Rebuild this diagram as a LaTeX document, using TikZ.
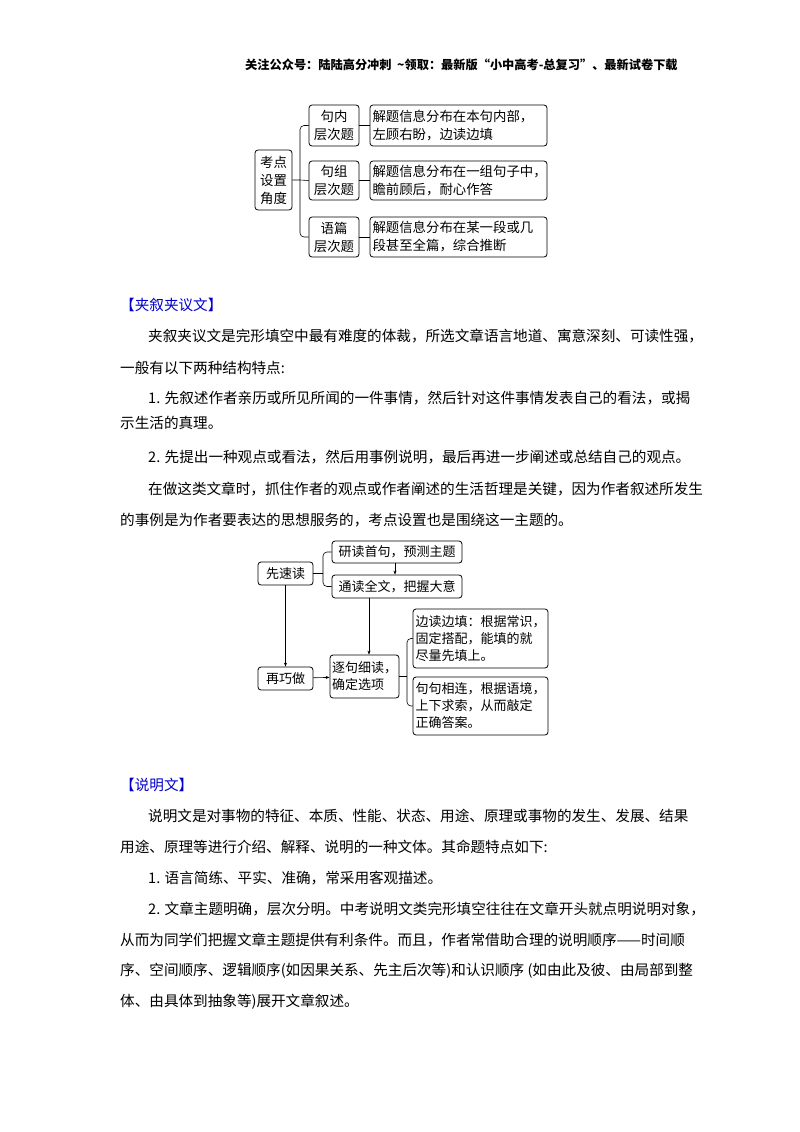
\documentclass[tikz,border=0pt]{standalone}
\usepackage{fontspec}
\setmainfont{Noto Sans CJK SC}
\usetikzlibrary{arrows.meta}
\begin{document}
\begin{tikzpicture}[x=1pt,y=-1pt,
 bx/.style={draw,rounded corners=3pt,line width=0.8pt,inner sep=2pt,font=\fontsize{13}{17}\selectfont,align=left},
 bt/.style={bx,font=\fontsize{13.4}{18}\selectfont},
 ln/.style={line width=0.6pt},
 ar/.style={line width=0.6pt,-{Stealth[length=4pt,width=3pt]}},
 tx/.style={anchor=west,inner sep=0pt,font=\fontsize{14.6}{16}\selectfont},
 hd/.style={anchor=west,inner sep=0pt,font=\fontsize{14.6}{16}\selectfont,text=blue!80!black}]
\useasboundingbox (0,0) rectangle (800,1132);
\node[anchor=west,inner sep=0pt,font=\fontsize{12.2}{14}\selectfont\bfseries] (h) at (245,65) {关注公众号：陆陆高分冲刺\ \ \~{}领取：最新版“小中高考-总复习”、最新试卷下载};
% top diagram
\node[bt,minimum width=37pt,minimum height=60pt] (r) at (273.5,180) {考点\\设置\\角度};
\node[bt,minimum width=50pt,minimum height=41pt,align=center] (a1) at (334,125.5) {句内\\层次题};
\node[bt,minimum width=50pt,minimum height=39pt,align=center] (a2) at (334,180.5) {句组\\层次题};
\node[bt,minimum width=50pt,minimum height=40pt,align=center] (a3) at (334,237) {语篇\\层次题};
\node[bt,minimum width=177pt,minimum height=41pt,text width=172pt] (b1) at (458.5,125.5) {解题信息分布在本句内部，\\左顾右盼，边读边填};
\node[bt,minimum width=177pt,minimum height=39pt,text width=172pt] (b2) at (458.5,180.5) {解题信息分布在一组句子中，\\瞻前顾后，耐心作答};
\node[bt,minimum width=177pt,minimum height=40pt,text width=172pt] (b3) at (458.5,237) {解题信息分布在某一段或几\\段甚至全篇，综合推断};
\coordinate (j) at (300,180);
\draw[ln] (r.east) -- (j) -- (a2.west);
\draw[ln,rounded corners=4pt] (a1.west) -| (j) |- (a3.west);
\draw[ln] (a1) -- (b1); \draw[ln] (a2) -- (b2); \draw[ln] (a3) -- (b3);
% text 1
\node[hd] (t0) at (120,305) {【夹叙夹议文】};
\node[tx] (t1) at (148,336) {夹叙夹议文是完形填空中最有难度的体裁，所选文章语言地道、寓意深刻、可读性强，};
\node[tx] (t2) at (120,368) {一般有以下两种结构特点:};
\node[tx] (t3) at (148,398) {1. 先叙述作者亲历或所见所闻的一件事情，然后针对这件事情发表自己的看法，或揭};
\node[tx] (t4) at (120,423) {示生活的真理。};
\node[tx] (t5) at (148,457) {2. 先提出一种观点或看法，然后用事例说明，最后再进一步阐述或总结自己的观点。};
\node[tx] (t6) at (148,489) {在做这类文章时，抓住作者的观点或作者阐述的生活哲理是关键，因为作者叙述所发生};
\node[tx] (t7) at (120,520) {的事例是为作者要表达的思想服务的，考点设置也是围绕这一主题的。};
% middle diagram
\node[bx,minimum width=55pt,minimum height=23pt] (c1) at (285.5,573.5) {先速读};
\node[bx,minimum width=130pt,minimum height=22pt] (d1) at (397,552) {研读首句，预测主题};
\node[bx,minimum width=130pt,minimum height=23pt] (d2) at (397,586.5) {通读全文，把握大意};
\node[bx,minimum width=55pt,minimum height=23pt] (c2) at (285.5,678.5) {再巧做};
\node[bx,minimum width=65pt,minimum height=43pt] (e) at (364.5,676.5) {逐句细读，\\确定选项};
\node[bx,minimum width=135pt,minimum height=59pt,text width=130pt] (f1) at (480.5,638.5) {边读边填：根据常识，\\固定搭配，能填的就\\尽量先填上。};
\node[bx,minimum width=135pt,minimum height=58pt,text width=130pt] (f2) at (480.5,706) {句句相连，根据语境，\\上下求索，从而敲定\\正确答案。};
\coordinate (k) at (323,573.5);
\draw[ln] (c1.east) -- (k);
\draw[ln,rounded corners=4pt] (d1.west) -| (k) |- (d2.west);
\draw[ar] ([xshift=-2pt]d1.south) -- ([xshift=-2pt]d2.north);
\draw[ar] (c1) -- (c2);
\draw[ar] (c2) -- (e);
\draw[ar] (d2.south -| 369,0) -- (e.north -| 369,0);
\coordinate (m) at (407,676.5);
\draw[ln] (e.east) -- (m);
\draw[ln,rounded corners=4pt] (f1.west) -| (m) |- (f2.west);
% text 2
\node[hd] (u0) at (120,785) {【说明文】};
\node[tx] (u1) at (148,816) {说明文是对事物的特征、本质、性能、状态、用途、原理或事物的发生、发展、结果};
\node[tx] (u2) at (120,847) {用途、原理等进行介绍、解释、说明的一种文体。其命题特点如下:};
\node[tx] (u3) at (148,878) {1. 语言简练、平实、准确，常采用客观描述。};
\node[tx] (u4) at (148,909) {2. 文章主题明确，层次分明。中考说明文类完形填空往往在文章开头就点明说明对象，};
\node[tx] (u5) at (120,940) {从而为同学们把握文章主题提供有利条件。而且，作者常借助合理的说明顺序——时间顺};
\node[tx] (u6) at (120,971) {序、空间顺序、逻辑顺序(如因果关系、先主后次等)和认识顺序\ (如由此及彼、由局部到整};
\node[tx] (u7) at (120,1002) {体、由具体到抽象等)展开文章叙述。};
\end{tikzpicture}
\end{document}
